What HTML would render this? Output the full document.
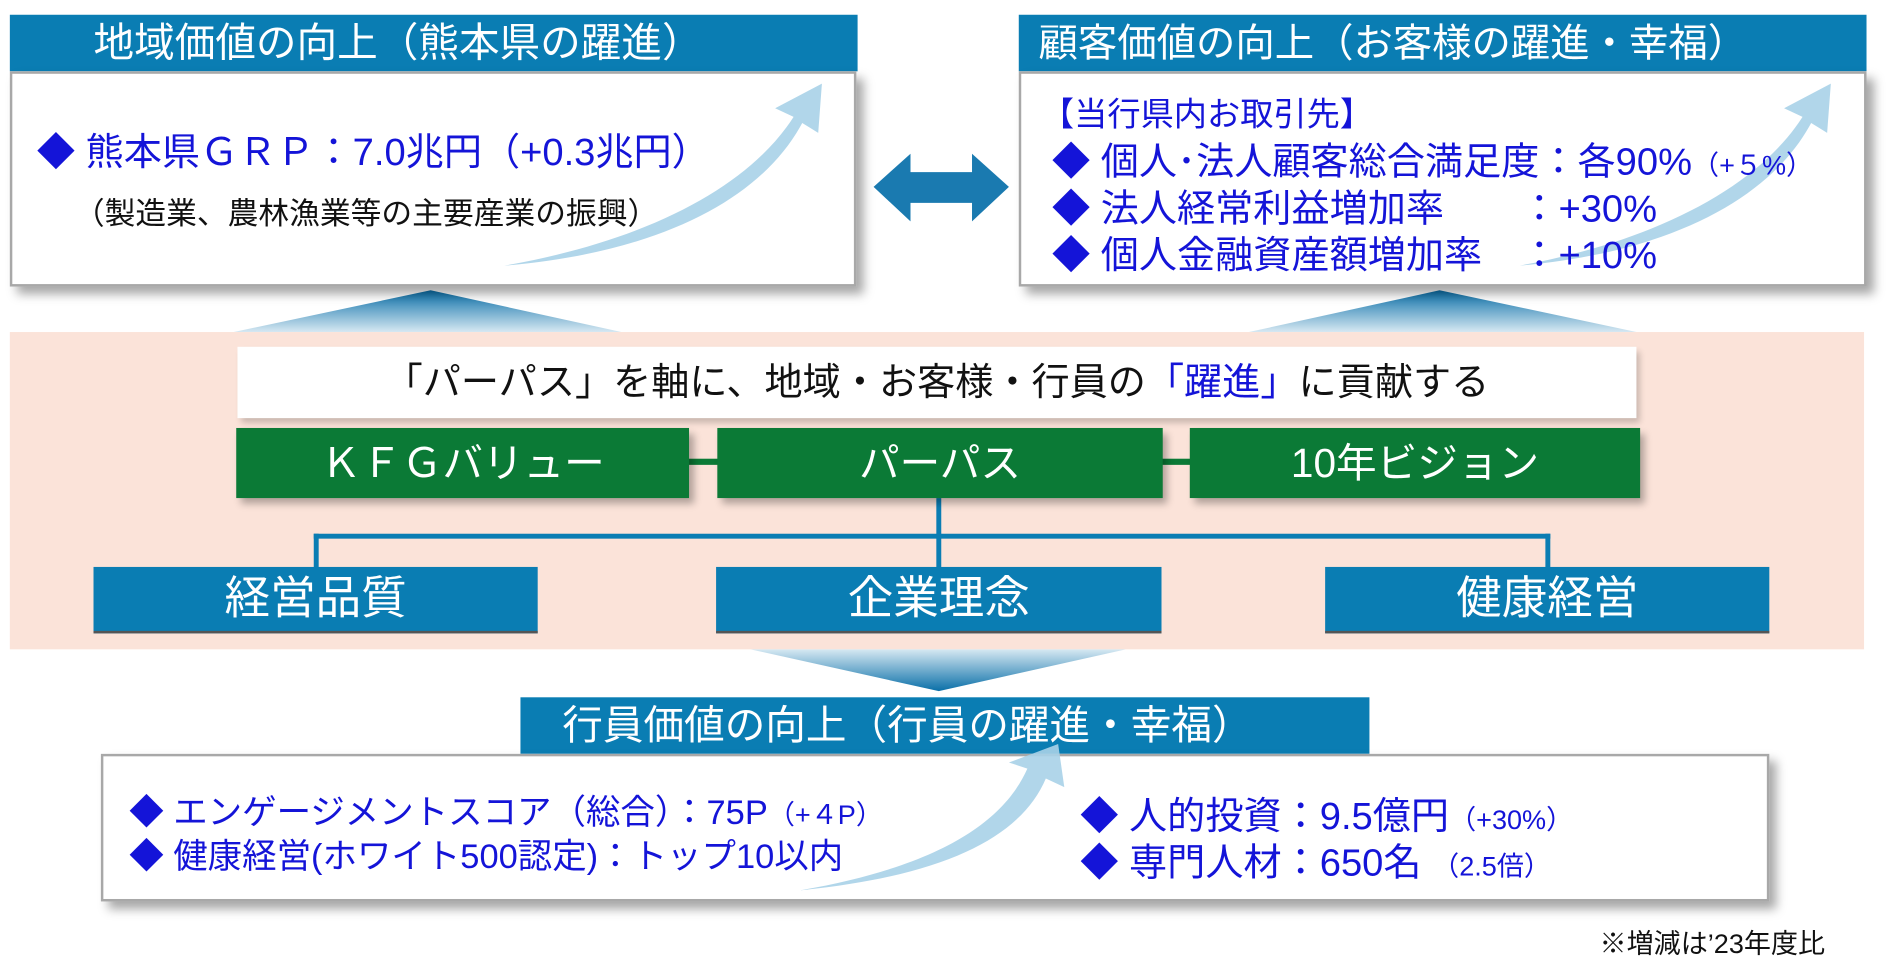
<!DOCTYPE html>
<html><head><meta charset="utf-8"><style>
*{margin:0;padding:0;box-sizing:border-box}
body{width:1901px;height:958px;overflow:hidden;background:#fff;font-family:"Liberation Sans","Noto Sans CJK JP",sans-serif}
#w{position:absolute;left:0;top:0;width:1545px;height:779px;transform:scale(1.2304,1.2298);transform-origin:0 0}
.a{position:absolute}
.hd{background:#0a7db3;color:#fff;font-size:33px;line-height:46px;white-space:nowrap}
.bx{background:#fff;border:2px solid #a8a8a8;box-shadow:6px 6px 8px rgba(0,0,0,.35)}
.t{white-space:nowrap;color:#1414d8}
.g{background:#0b7a36;color:#fff;font-size:33px;text-align:center;line-height:57px;box-shadow:4px 5px 6px rgba(0,0,0,.3)}
.b{background:#0a7db3;color:#fff;font-size:37px;text-align:center;line-height:52px;border-bottom:2px solid #555}
</style></head><body><div id="w">
<svg class="a" style="left:0;top:0" width="1545" height="779">
<defs>
<linearGradient id="tg" x1="0" y1="0" x2="0" y2="1"><stop offset="0" stop-color="#0a6fa8"/><stop offset="1" stop-color="#d6e8f2"/></linearGradient>
<linearGradient id="dg" x1="0" y1="0" x2="0" y2="1"><stop offset="0" stop-color="#d6e8f2"/><stop offset="1" stop-color="#0a6fa8"/></linearGradient>
</defs>
<polygon points="190,270 350,236 505,270" fill="url(#tg)"/>
<polygon points="1015,270 1170,236 1330,270" fill="url(#tg)"/>
<rect x="8" y="270" width="1507" height="258" fill="#fbe3d9"/>
<polygon points="610,528 915,528 763,562" fill="url(#dg)"/>
<polygon points="710,152 740,125 740,140 790,140 790,125 820,152 790,180 790,165 740,165 740,180" fill="#1a7ab0"/>
</svg>
<div class="a hd" style="left:8px;top:12px;width:689px;padding-left:68px">地域価値の向上（熊本県の躍進）</div>
<div class="a bx" style="left:8px;top:58px;width:688px;height:175px"></div>
<div class="a hd" style="left:828px;top:12px;width:689px;padding-left:16px;font-size:32px">顧客価値の向上（お客様の躍進・幸福）</div>
<div class="a bx" style="left:828px;top:58px;width:689px;height:175px"></div>
<div class="a hd" style="left:423px;top:567px;width:690px;padding-left:34px">行員価値の向上（行員の躍進・幸福）</div>
<div class="a bx" style="left:82px;top:613px;width:1356px;height:120px"></div>
<svg class="a" style="left:0;top:0" width="1545" height="779">
<g fill="#a9d2e8" opacity=".9">
<path d="M410,216 C530,195 610,150 645,95 L630,88 L668,68 L665,108 L652,100 C620,160 540,205 410,216Z"/>
<path d="M1235,216 C1350,195 1430,150 1465,95 L1450,88 L1488,68 L1485,108 L1472,100 C1440,160 1360,205 1235,216Z"/>
<path d="M650,724 C760,705 815,670 835,625 L820,620 L860,605 L865,640 L850,633 C830,680 770,712 650,724Z"/>
</g>
<g fill="#0a7db3"><rect x="761" y="405" width="4" height="33"/><rect x="255" y="434" width="1005" height="4"/><rect x="255" y="434" width="4" height="28"/><rect x="1256" y="434" width="4" height="28"/><rect x="761" y="434" width="4" height="28"/></g>
<g fill="#0b7a36"><rect x="560" y="373" width="24" height="5"/><rect x="944" y="373" width="24" height="5"/></g>
</svg>
<div class="a t" style="left:30px;top:98px;font-size:31px">◆ 熊本県ＧＲＰ：7.0兆円（+0.3兆円）</div>
<div class="a" style="left:60px;top:154px;font-size:25px;white-space:nowrap;color:#111">（製造業、農林漁業等の主要産業の振興）</div>
<div class="a t" style="left:846px;top:71px;font-size:27px">【当行県内お取引先】</div>
<div class="a t" style="left:855px;top:106px;font-size:31px">◆ 個人･法人顧客総合満足度：各90%<span style="font-size:22px">（+５%）</span></div>
<div class="a t" style="left:855px;top:144px;font-size:31px">◆ 法人経常利益増加率　　：+30%</div>
<div class="a t" style="left:855px;top:182px;font-size:31px">◆ 個人金融資産額増加率　：+10%</div>
<div class="a" style="left:193px;top:282px;width:1137px;height:58px;background:#fff;box-shadow:3px 4px 5px rgba(0,0,0,.2);font-size:31px;line-height:58px;text-align:center;color:#111;white-space:nowrap">「パーパス」を軸に、地域・お客様・行員の<span style="color:#1414d8">「躍進」</span>に貢献する</div>
<div class="a g" style="left:192px;top:348px;width:368px">ＫＦＧバリュー</div>
<div class="a g" style="left:583px;top:348px;width:362px">パーパス</div>
<div class="a g" style="left:967px;top:348px;width:366px">10年ビジョン</div>
<div class="a b" style="left:76px;top:461px;width:361px">経営品質</div>
<div class="a b" style="left:582px;top:461px;width:362px">企業理念</div>
<div class="a b" style="left:1077px;top:461px;width:361px">健康経営</div>
<div class="a t" style="left:105px;top:639px;font-size:28px">◆ エンゲージメントスコア（総合）：75P<span style="font-size:22px">（+４P）</span></div>
<div class="a t" style="left:105px;top:675px;font-size:28px">◆ 健康経営(ホワイト500認定)：トップ10以内</div>
<div class="a t" style="left:878px;top:638px;font-size:31px">◆ 人的投資：9.5億円<span style="font-size:22px">（+30%）</span></div>
<div class="a t" style="left:878px;top:676px;font-size:31px">◆ 専門人材：650名 <span style="font-size:22px">（2.5倍）</span></div>
<div class="a" style="left:1300px;top:750px;font-size:22px;color:#111;white-space:nowrap">※増減は’23年度比</div>
</div></body></html>
